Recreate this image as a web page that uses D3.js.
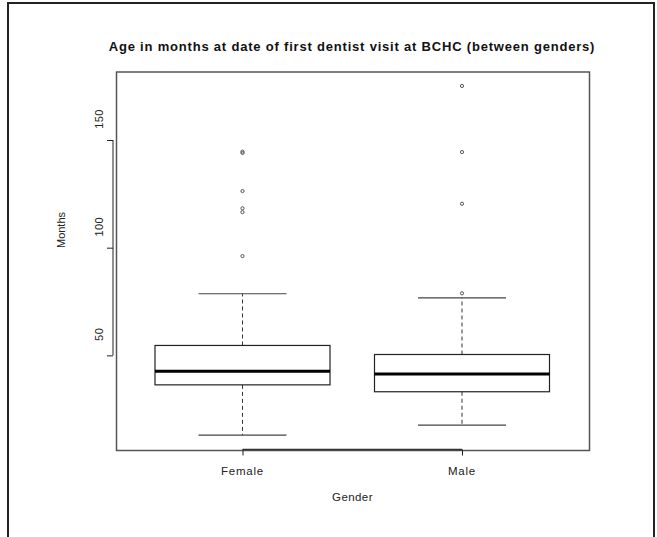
<!DOCTYPE html>
<html>
<head>
<meta charset="utf-8">
<script src="https://cdn.jsdelivr.net/npm/d3@7"></script>
<style>
  body { margin: 0; background: #fff; }
  svg { display: block; font-family: "Liberation Sans", Arial, sans-serif; }
</style>
</head>
<body>
<div id="chart"></div>
<script>
// box statistics (months)
const groups = ["Female", "Male"];
const lowerWhisker = [13.0, 17.6];
const q1 = [36.3, 33.1];
const median = [42.6, 41.4];
const q3 = [54.6, 50.4];
const upperWhisker = [78.6, 76.7];
const femaleOutliers = [96.1, 116.5, 118.3, 126.3, 144.0, 144.6];
const maleOutliers = [78.8, 120.4, 144.4, 175.1];
const yTicks = [50, 100, 150];

const W = 657, H = 537;
const plot = { left: 116.5, right: 589.5, top: 72, bottom: 449 };

const svg = d3.select("#chart").append("svg")
    .attr("width", W)
    .attr("height", H);

// outer frame
svg.append("rect")
    .attr("x", 8).attr("y", 3)
    .attr("width", 646).attr("height", 560)
    .attr("fill", "none")
    .attr("stroke", "#222")
    .attr("stroke-width", 2);

const boxes = groups.map((g, i) => ({
  group: g,
  lo: lowerWhisker[i], q1: q1[i], med: median[i], q3: q3[i], hi: upperWhisker[i],
  out: i === 0 ? femaleOutliers : maleOutliers
}));

const allVals = boxes.flatMap(d => [d.lo, d.hi, ...d.out]);
const [vmin, vmax] = d3.extent(allVals);
const pad = (vmax - vmin) * 0.04;

const y = d3.scaleLinear()
    .domain([vmin - pad, vmax + pad])
    .range([plot.bottom, plot.top]);

const x = d3.scalePoint()
    .domain(groups)
    .range([242.5, 462]);

const boxW = 175, capW = 88;

// plot frame
svg.append("rect")
    .attr("x", plot.left).attr("y", plot.top)
    .attr("width", plot.right - plot.left)
    .attr("height", plot.bottom + 1.5 - plot.top)
    .attr("fill", "none")
    .attr("stroke", "#555")
    .attr("stroke-width", 1.5);

const g = svg.append("g");

const bx = g.selectAll("g.box")
    .data(boxes)
    .enter().append("g")
    .attr("class", "box");

// whiskers (dashed)
bx.append("line")
    .attr("x1", d => x(d.group)).attr("x2", d => x(d.group))
    .attr("y1", d => y(d.q3)).attr("y2", d => y(d.hi))
    .attr("stroke", "#333").attr("stroke-dasharray", "4,3");
bx.append("line")
    .attr("x1", d => x(d.group)).attr("x2", d => x(d.group))
    .attr("y1", d => y(d.q1)).attr("y2", d => y(d.lo))
    .attr("stroke", "#333").attr("stroke-dasharray", "4,3");

// caps
bx.selectAll("line.cap")
    .data(d => [d.lo, d.hi].map(v => ({ group: d.group, v })))
    .enter().append("line")
    .attr("class", "cap")
    .attr("x1", d => x(d.group) - capW / 2)
    .attr("x2", d => x(d.group) + capW / 2)
    .attr("y1", d => y(d.v)).attr("y2", d => y(d.v))
    .attr("stroke", "#444").attr("stroke-width", 1.2);

// box
bx.append("rect")
    .attr("x", d => x(d.group) - boxW / 2)
    .attr("y", d => y(d.q3))
    .attr("width", boxW)
    .attr("height", d => y(d.q1) - y(d.q3))
    .attr("fill", "#fff")
    .attr("stroke", "#222")
    .attr("stroke-width", 1.2);

// median
bx.append("line")
    .attr("x1", d => x(d.group) - boxW / 2)
    .attr("x2", d => x(d.group) + boxW / 2)
    .attr("y1", d => y(d.med)).attr("y2", d => y(d.med))
    .attr("stroke", "#000").attr("stroke-width", 3);

// outliers
bx.selectAll("circle")
    .data(d => d.out.map(v => ({ group: d.group, v })))
    .enter().append("circle")
    .attr("cx", d => x(d.group))
    .attr("cy", d => y(d.v))
    .attr("r", 1.6)
    .attr("fill", "none")
    .attr("stroke", "#555")
    .attr("stroke-width", 1);

// y axis (line and ticks), labels sit a bit above the ticks like in the source
const yAxis = svg.append("g")
    .attr("transform", `translate(113,0)`)
    .call(d3.axisLeft(y).tickValues(yTicks).tickSize(6).tickSizeOuter(0).tickFormat(""));
yAxis.select(".domain").attr("stroke", "#222");
yAxis.selectAll(".tick line").attr("stroke", "#222");
yAxis.select(".domain")
    .attr("d", `M0,${y(yTicks[0])}V${y(yTicks[yTicks.length - 1])}`);

svg.selectAll("text.ytick")
    .data(yTicks)
    .enter().append("text")
    .attr("class", "ytick")
    .attr("transform", d => `translate(103,${y(d) - 21}) rotate(-90)`)
    .attr("text-anchor", "middle")
    .style("font-size", "11px")
    .style("letter-spacing", "0.4px")
    .style("fill", "#222")
    .text(d => d);

// x axis
const xAxis = svg.append("g")
    .attr("transform", `translate(0,449.5)`)
    .call(d3.axisBottom(x).tickSize(6).tickSizeOuter(0).tickFormat(""));
xAxis.select(".domain")
    .attr("d", `M${x(groups[0])},0H${x(groups[groups.length - 1])}`)
    .attr("stroke", "#333").attr("stroke-width", 1.5);
xAxis.selectAll(".tick line").attr("stroke", "#222");

svg.selectAll("text.xtick")
    .data(groups)
    .enter().append("text")
    .attr("class", "xtick")
    .attr("x", d => x(d))
    .attr("y", 475)
    .attr("text-anchor", "middle")
    .style("font-size", "11.5px")
    .style("letter-spacing", "0.8px")
    .style("fill", "#222")
    .text(d => d);

// axis titles
svg.append("text")
    .attr("x", 352.5)
    .attr("y", 501)
    .attr("text-anchor", "middle")
    .style("font-size", "11.5px")
    .style("letter-spacing", "0.4px")
    .style("fill", "#222")
    .text("Gender");

svg.append("text")
    .attr("transform", `translate(64.5,230) rotate(-90)`)
    .attr("text-anchor", "middle")
    .style("font-size", "11px")
    .style("fill", "#222")
    .text("Months");

// title
svg.append("text")
    .attr("x", 352)
    .attr("y", 51)
    .attr("text-anchor", "middle")
    .style("font-size", "13px")
    .style("font-weight", "bold")
    .style("letter-spacing", "0.8px")
    .style("fill", "#111")
    .text("Age in months at date of first dentist visit at BCHC (between genders)");
</script>
</body>
</html>
